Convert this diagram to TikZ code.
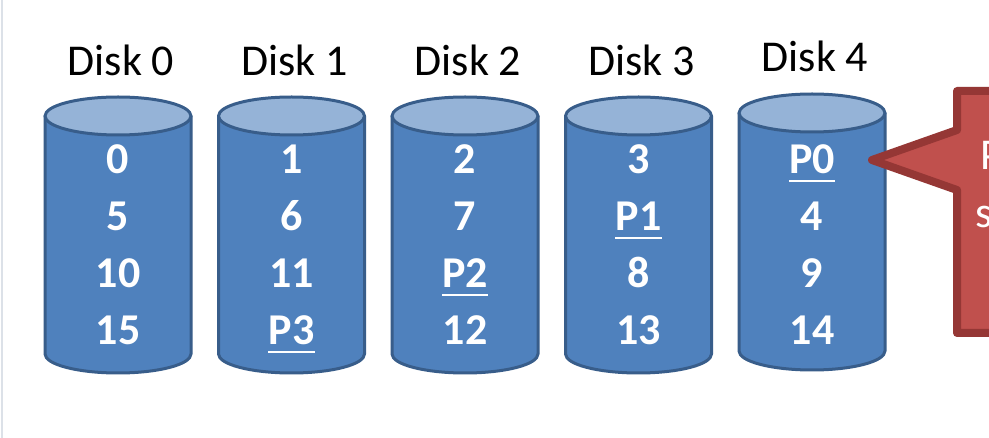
\documentclass[tikz,border=0pt]{standalone}
\usepackage{fontspec}
\setmainfont{Carlito}
\definecolor{diskbody}{HTML}{4F81BD}
\definecolor{disktop}{HTML}{95B3D7}
\definecolor{diskedge}{HTML}{385D8A}
\definecolor{notefill}{HTML}{C0504D}
\definecolor{noteedge}{HTML}{953735}
\definecolor{slideedge}{HTML}{DCE1E8}

\begin{document}
\begin{tikzpicture}[x=1pt,y=-1pt,line join=round,
  disklabel/.style={inner sep=0pt,anchor=base,font=\fontsize{44}{53}\selectfont},
  blocknum/.style={inner sep=0pt,anchor=base,text=white,font=\fontsize{44}{53}\selectfont\bfseries},
  notetext/.style={inner sep=0pt,anchor=base west,text=white,font=\fontsize{44}{53}\selectfont},
  paritybar/.style={white,line width=2.5pt}]
% ---------- frame ----------
% pixel grid: 1pt = 1px, y runs downwards
\useasboundingbox (0,0) rectangle (989,438);
\clip (0,0) rectangle (989,438);
\fill[white] (0,0) rectangle (989,438);
\draw[slideedge,line width=2pt] (2,0) -- (2,438);
% ---------- disks ----------
% centre x, vertical shift; rx=73, ry=19
\foreach \i/\x/\dy in {0/118/0,1/291.5/0,2/465/0,3/638.5/0,4/812/-3}{
  \pgfmathsetmacro{\ytop}{116+\dy}
  \pgfmathsetmacro{\ybot}{354+\dy}
  \filldraw[fill=diskbody,draw=diskedge,line width=3pt]
    (\x-73,\ytop) -- (\x-73,\ybot)
    arc[start angle=180,end angle=360,x radius=73pt,y radius=19pt]
    -- (\x+73,\ytop) -- cycle;
  \filldraw[fill=disktop,draw=diskedge,line width=3pt]
    (\x,\ytop) ellipse[x radius=73pt,y radius=19pt];
}
% disk titles
\foreach \i/\x/\y in {0/121/76,1/294.5/76,2/468/76,3/641.5/76,4/815/72}
  \node[disklabel] (title\i) at (\x,\y) {Disk \i};
% block numbers, one column per disk
\foreach \i/\x/\a/\b/\c/\d in {0/118/0/5/10/15,1/291.5/1/6/11/P3,
                               2/465/2/7/P2/12,3/638.5/3/P1/8/13,
                               4/812/P0/4/9/14}{
  \node[blocknum] (b\i-0) at (\x,174) {\a};
  \node[blocknum] (b\i-1) at (\x,231) {\b};
  \node[blocknum] (b\i-2) at (\x,288) {\c};
  \node[blocknum] (b\i-3) at (\x,345) {\d};
}
% parity blocks underlined
\foreach \n in {b4-0,b3-1,b2-2,b1-3}
  \draw[paritybar] ([yshift=-7pt]\n.base west) -- ([yshift=-7pt]\n.base east);
% ---------- callout ----------
\draw[fill=notefill,draw=noteedge,line width=8pt]
  (1100,91) -- (957,91) -- (957,130) -- (872,160) -- (957,190)
  -- (957,333) -- (1100,333) -- cycle;
\node[notetext] (note1) at (980,170) {Parity};
\node[notetext] (note2) at (975,228) {stripe};
\end{tikzpicture}
\end{document}
